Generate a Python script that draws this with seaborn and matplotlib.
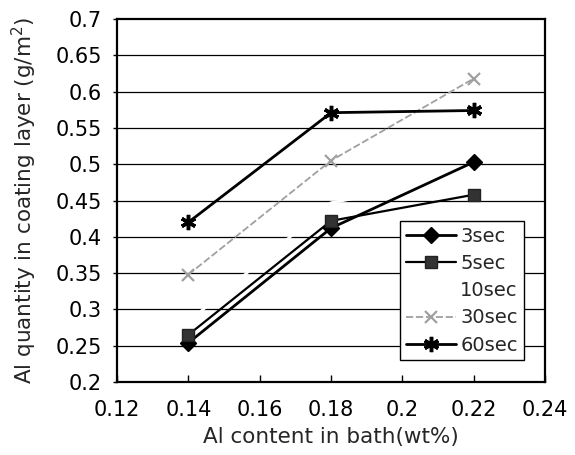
import matplotlib
matplotlib.use("Agg")
import matplotlib.pyplot as plt
import seaborn as sns
import pandas as pd
from matplotlib.ticker import FormatStrFormatter

# Al content in the galvanizing bath (wt%)
al_content = [0.14, 0.18, 0.22]

# Al quantity in coating layer (g/m^2) for each dipping time
t3_sec = [0.254, 0.412, 0.503]
t5_sec = [0.265, 0.422, 0.458]
t10_sec = [0.283, 0.447, 0.482]
t30_sec = [0.348, 0.505, 0.618]
t60_sec = [0.420, 0.571, 0.574]

series_names = ["3sec", "5sec", "10sec", "30sec", "60sec"]
series_values = [t3_sec, t5_sec, t10_sec, t30_sec, t60_sec]

x_ticks = [0.12, 0.14, 0.16, 0.18, 0.2, 0.22, 0.24]
y_ticks = [0.2, 0.25, 0.3, 0.35, 0.4, 0.45, 0.5, 0.55, 0.6, 0.65, 0.7]

df = pd.DataFrame(
    [(x, v, name) for name, vals in zip(series_names, series_values)
     for x, v in zip(al_content, vals)],
    columns=["al", "qty", "time"],
)

sns.set_style("white")
plt.rcParams["font.family"] = ["DejaVu Sans"]

styles = {
    "3sec": dict(color="black", marker="D", markersize=8, lw=2.0, ls="-",
                 mfc="black", mec="black", mew=1, zorder=3),
    "5sec": dict(color="black", marker="s", markersize=8, lw=1.6, ls="-",
                 mfc="#333333", mec="#222222", mew=1, zorder=3),
    "10sec": dict(color="white", marker=None, lw=2.0, ls="-", zorder=2),
    "30sec": dict(color="#a0a0a0", marker="x", markersize=9, lw=1.3,
                  ls=(0, (4, 1.5)), mfc="none", mec="#a0a0a0", mew=1.6,
                  zorder=3),
    "60sec": dict(color="black", marker=(6, 2, 0), markersize=11, lw=2.0,
                  ls="-", mec="black", mew=2.5, zorder=3),
}

fig = plt.figure(figsize=(5.75, 4.55), dpi=100)
ax = fig.add_axes([0.2035, 0.1604, 0.7445, 0.7978])

for name in series_names:
    sub = df[df["time"] == name]
    st = dict(styles[name])
    sns.lineplot(data=sub, x="al", y="qty", ax=ax, label=name,
                 color=st.pop("color"), linewidth=st.pop("lw"),
                 linestyle=st.pop("ls"), estimator=None, sort=False, **st)

ax.set_xlim(0.12, 0.24)
ax.set_ylim(0.2, 0.7)
ax.set_xticks(x_ticks)
ax.set_yticks(y_ticks)
ax.xaxis.set_major_formatter(FormatStrFormatter("%g"))
ax.yaxis.set_major_formatter(FormatStrFormatter("%g"))

for y in y_ticks[1:-1]:
    ax.axhline(y, color="black", lw=0.9, zorder=1)

for sp in ax.spines.values():
    sp.set_color("black")
    sp.set_linewidth(1.6)

ax.tick_params(axis="x", direction="in", length=5, width=1, labelsize=15,
               pad=13, bottom=True, colors="black")
ax.tick_params(axis="y", direction="out", length=3, width=1, labelsize=15,
               pad=8, left=True, colors="black")

ax.set_xlabel("Al content in bath(wt%)", fontsize=15.5, labelpad=5)
ax.set_ylabel("Al quantity in coating layer (g/m$^2$)", fontsize=15.5,
              labelpad=12)

leg = ax.legend(loc="upper left", bbox_to_anchor=(0.661, 0.4435),
                borderaxespad=0, frameon=True, fancybox=False,
                fontsize=14, handlelength=2.6, handletextpad=0.2,
                labelspacing=0.42, borderpad=0.3)
leg.get_frame().set_edgecolor("black")
leg.get_frame().set_linewidth(1.0)
leg.get_frame().set_alpha(1)

fig.savefig("out.png", dpi=100)
